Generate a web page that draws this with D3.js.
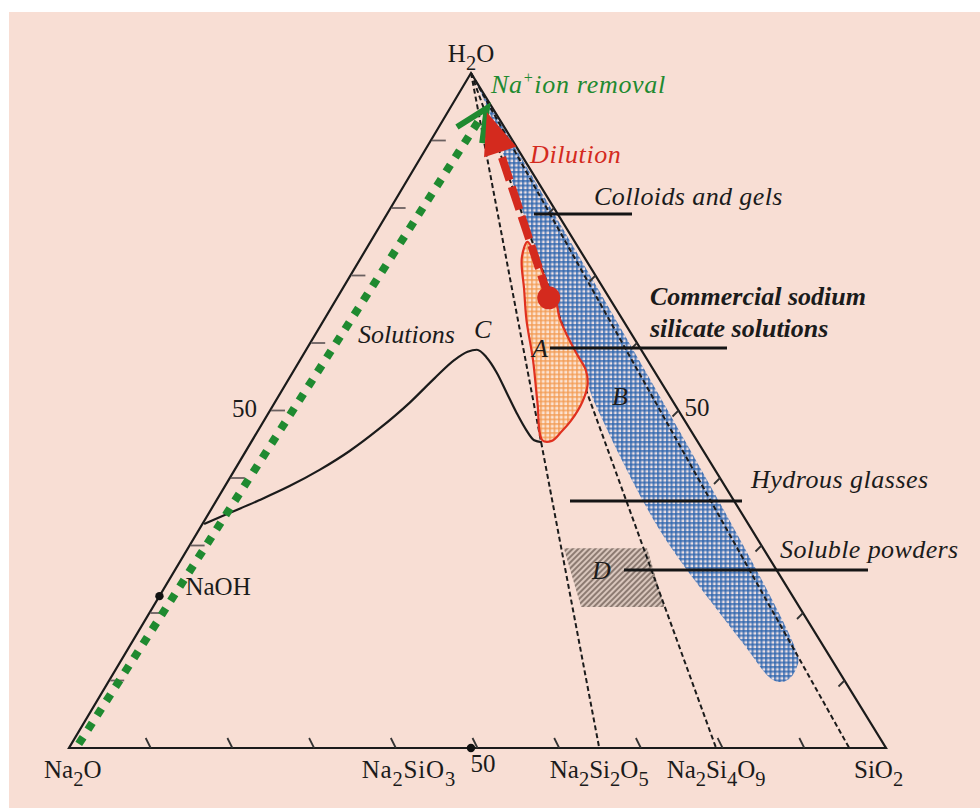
<!DOCTYPE html>
<html>
<head>
<meta charset="utf-8">
<script src="https://cdn.jsdelivr.net/npm/d3@7"></script>
<style>
  html, body { margin: 0; padding: 0; background: #ffffff; }
  svg { display: block; }
</style>
</head>
<body>
<svg id="chart" width="980" height="808"></svg>
<script>
// Na2O – SiO2 – H2O ternary diagram (weight %). Points are [SiO2 %, H2O %].

const axisTicks = [10, 20, 30, 40, 50, 60, 70, 80, 90];
const axisTickLabels = ["50", "50", "50"];

// silicate compositions on the Na2O–SiO2 join (SiO2 %)
const compoundSiO2 = [64.9, 79.2, 95.5];
const compoundNames = ["Na_2Si_2O_5", "Na_2Si_4O_9"];
const metasilicateSiO2 = [49.2];
const naohPoint = [[0, 22.5]];

// boundary of the solutions field
const solutionsCurve = [
  [0.2, 33.2], [2.5, 34.8], [5.2, 36.7], [7.9, 38.8], [10.4, 41.2], [12.7, 44.0],
  [14.7, 47.3], [16.5, 51.1], [17.8, 54.8], [18.9, 57.5], [19.9, 58.7], [20.9, 59.0],
  [22.6, 57.9], [25.0, 55.6], [27.7, 52.6], [30.4, 49.6], [32.8, 47.1], [34.5, 45.6],
  [35.6, 45.3]
];

// field A: commercial sodium silicate solutions
const regionA = [
  [19.2, 75.0], [19.7, 72.6], [22.3, 67.9], [24.8, 63.4], [28.5, 57.5], [32.2, 51.1],
  [35.5, 45.6], [36.7, 45.5], [37.2, 46.8], [37.6, 48.6], [37.6, 51.3], [37.0, 53.8],
  [35.7, 56.0], [33.6, 58.2], [31.0, 61.0], [28.7, 63.7], [27.1, 66.1], [24.8, 68.6],
  [22.4, 71.6], [20.2, 74.1]
];

// field B: colloids, gels, hydrous glasses
const regionB = [
  [1.4, 98.5], [82.6, 13.5], [83.2, 11.9], [83.2, 10.5], [82.5, 9.8], [81.0, 10.2],
  [75.1, 15.3], [68.0, 21.6], [61.0, 27.9], [56.4, 32.3], [51.4, 37.5], [46.0, 43.4],
  [41.4, 48.6], [38.2, 52.3], [36.0, 55.3], [33.6, 58.2], [31.0, 61.0], [28.7, 63.7],
  [26.1, 67.1], [22.0, 72.3], [18.0, 77.5], [13.9, 82.7], [9.4, 88.6], [5.4, 93.8],
  [2.0, 97.8]
];

// field D: soluble powders
const regionD = [[46.0, 29.6], [56.2, 29.6], [62.6, 20.9], [52.4, 20.9]];

// process arrows: [start, end]
const dilutionArrow = [[25.9, 66.7], [4.8, 94.2]];
const ionRemovalArrow = [[0.9, 0.6], [4.5, 94.8]];

const annotations = [
  "Colloids and gels", "Commercial sodium", "silicate solutions",
  "Hydrous glasses", "Soluble powders", "Solutions"
];
const fieldLetters = ["A", "B", "C", "D"];

// ---------------------------------------------------------------
const svg = d3.select("#chart");
const serif = "'Liberation Serif', 'Times New Roman', serif";
const ink = "#1b1b1b";

const xs = d3.scaleLinear().domain([0, 100]).range([69, 886]);
const ys = d3.scaleLinear().domain([0, 100]).range([748, 73]);
const apexX = 471;
const apexShare = xs.invert(apexX) / 100;   // horizontal offset of the H2O corner
const P = ([s, h]) => [xs(s + h * apexShare), ys(h)];

const defs = svg.append("defs");

// blue gingham
const pb = defs.append("pattern").attr("id", "blueCheck")
  .attr("patternUnits", "userSpaceOnUse").attr("width", 4.5).attr("height", 4.5);
pb.append("rect").attr("width", 4.5).attr("height", 4.5).attr("fill", "#f0e2e4");
pb.append("rect").attr("width", 4.5).attr("height", 2.2).attr("fill", "#2a62ad").attr("opacity", 0.72);
pb.append("rect").attr("width", 2.2).attr("height", 4.5).attr("fill", "#2a62ad").attr("opacity", 0.72);

// orange gingham
const po = defs.append("pattern").attr("id", "orangeCheck")
  .attr("patternUnits", "userSpaceOnUse").attr("width", 4.5).attr("height", 4.5);
po.append("rect").attr("width", 4.5).attr("height", 4.5).attr("fill", "#fbe4d6");
po.append("rect").attr("width", 4.5).attr("height", 2).attr("fill", "#f39a50").attr("opacity", 0.7);
po.append("rect").attr("width", 2).attr("height", 4.5).attr("fill", "#f39a50").attr("opacity", 0.7);

// grey diagonal hatch
const ph = defs.append("pattern").attr("id", "hatch")
  .attr("patternUnits", "userSpaceOnUse").attr("width", 4).attr("height", 4)
  .attr("patternTransform", "rotate(-45)");
ph.append("rect").attr("width", 4).attr("height", 4).attr("fill", "#d9c6bc");
ph.append("rect").attr("width", 4).attr("height", 2).attr("fill", "#8d7b72");

// background panel
svg.append("rect").attr("x", 9).attr("y", 12).attr("width", 971).attr("height", 796)
  .attr("fill", "#f8ded4");

const lineOpen = d3.line().x(d => P(d)[0]).y(d => P(d)[1]);

// field B
svg.append("path")
  .attr("d", d3.line().x(d => P(d)[0]).y(d => P(d)[1]).curve(d3.curveCatmullRomClosed.alpha(0.5))(regionB))
  .attr("fill", "url(#blueCheck)");

// field D
svg.append("path").attr("d", lineOpen(regionD) + "Z").attr("fill", "url(#hatch)");

// compound joins from the H2O corner
svg.append("g").selectAll("line").data(compoundSiO2).join("line")
  .attr("x1", P([0, 100])[0]).attr("y1", P([0, 100])[1])
  .attr("x2", d => P([d, 0])[0]).attr("y2", d => P([d, 0])[1])
  .attr("stroke", ink).attr("stroke-width", 2).attr("stroke-dasharray", "5,3");

// triangle frame
const corners = [[0, 0], [100, 0], [0, 100]];
svg.append("path").attr("d", lineOpen(corners) + "Z")
  .attr("fill", "none").attr("stroke", ink).attr("stroke-width", 2.2).attr("stroke-linejoin", "miter");

// ticks: base (SiO2), left and right edges (H2O)
const tickG = svg.append("g").attr("stroke", "#333").attr("stroke-width", 1.8);
tickG.selectAll(".tb").data(axisTicks).join("line").attr("class", "tb")
  .attr("x1", d => P([d, 0])[0]).attr("y1", d => P([d, 0])[1])
  .attr("x2", d => P([d, 0])[0] - 5).attr("y2", d => P([d, 0])[1] - 10);
tickG.selectAll(".tl").data(axisTicks).join("line").attr("class", "tl")
  .attr("stroke", "#6a6060")
  .attr("x1", d => P([0, d])[0] + 1).attr("y1", d => P([0, d])[1])
  .attr("x2", d => P([0, d])[0] + 15).attr("y2", d => P([0, d])[1]);
tickG.selectAll(".tr").data(axisTicks).join("line").attr("class", "tr")
  .attr("x1", d => P([100 - d, d])[0]).attr("y1", d => P([100 - d, d])[1])
  .attr("x2", d => P([100 - d, d])[0] - 6).attr("y2", d => P([100 - d, d])[1] + 6);

// solutions boundary
svg.append("path")
  .attr("d", d3.line().x(d => P(d)[0]).y(d => P(d)[1]).curve(d3.curveMonotoneX)(solutionsCurve))
  .attr("fill", "none").attr("stroke", ink).attr("stroke-width", 2.2);

// field A
svg.append("path")
  .attr("d", d3.line().x(d => P(d)[0]).y(d => P(d)[1]).curve(d3.curveCatmullRomClosed.alpha(0.5))(regionA))
  .attr("fill", "url(#orangeCheck)").attr("stroke", "#e0301f").attr("stroke-width", 2.2);

// leader lines
const leaders = svg.append("g").attr("stroke", "#151515").attr("stroke-width", 3);
leaders.append("line").attr("x1", 534).attr("y1", 214).attr("x2", 632).attr("y2", 214);
leaders.append("line").attr("x1", 550).attr("y1", 348).attr("x2", 727).attr("y2", 348);
leaders.append("line").attr("x1", 570).attr("y1", 501).attr("x2", 742).attr("y2", 501);
leaders.append("line").attr("x1", 624).attr("y1", 570).attr("x2", 868).attr("y2", 570);

// helper: unit vector from a to b in pixels
function unit(a, b) {
  const dx = b[0] - a[0], dy = b[1] - a[1], L = Math.hypot(dx, dy);
  return [dx / L, dy / L, L];
}

// Na+ ion removal arrow (green, dotted, open head)
{
  const a = P(ionRemovalArrow[0]), b = P(ionRemovalArrow[1]);
  const [ux, uy] = unit(a, b);
  const green = "#1f8a30";
  svg.append("line")
    .attr("x1", a[0]).attr("y1", a[1]).attr("x2", b[0] - ux * 12).attr("y2", b[1] - uy * 12)
    .attr("stroke", green).attr("stroke-width", 8).attr("stroke-dasharray", "8,9");
  const back = 32, half = 15;
  const b1 = [b[0] - ux * back + uy * half, b[1] - uy * back - ux * half];
  const b2 = [b[0] - ux * back - uy * half, b[1] - uy * back + ux * half];
  svg.append("path").attr("d", d3.line()([b1, b, b2]))
    .attr("fill", "none").attr("stroke", green).attr("stroke-width", 6)
    .attr("stroke-linejoin", "miter");
}

// dilution arrow (red, dashed, filled head)
{
  const a = P(dilutionArrow[0]), b = P(dilutionArrow[1]);
  const [ux, uy] = unit(a, b);
  const red = "#d42a1e";
  const headLen = 42, half = 17;
  svg.append("line")
    .attr("x1", a[0]).attr("y1", a[1]).attr("x2", b[0] - ux * (headLen - 4)).attr("y2", b[1] - uy * (headLen - 4))
    .attr("stroke", red).attr("stroke-width", 8).attr("stroke-dasharray", "24,7");
  const base = [b[0] - ux * headLen, b[1] - uy * headLen];
  svg.append("path")
    .attr("d", d3.line()([b, [base[0] + uy * half, base[1] - ux * half], [base[0] - uy * half, base[1] + ux * half]]) + "Z")
    .attr("fill", red);
  svg.append("circle").attr("cx", a[0]).attr("cy", a[1]).attr("r", 11.5).attr("fill", red);
}

// composition points
svg.append("g").selectAll("circle")
  .data([[metasilicateSiO2[0], 0], ...naohPoint]).join("circle")
  .attr("cx", d => P(d)[0]).attr("cy", d => P(d)[1]).attr("r", 4.2).attr("fill", "#111");

// ---------------------------------------------------------------
// text with _n subscripts and ^+ superscripts
function rich(sel, str, size) {
  const parts = str.split(/(_\d|\^\+)/).filter(d => d);
  let shift = 0;
  parts.forEach(p => {
    let target = 0, txt = p, fs = size;
    if (p[0] === "_") { target = size * 0.3; txt = p.slice(1); fs = size * 0.82; }
    else if (p[0] === "^") { target = -size * 0.38; txt = p.slice(1); fs = size * 0.62; }
    sel.append("tspan").attr("dy", target - shift).attr("font-size", fs).text(txt);
    shift = target;
  });
  return sel;
}
function label(x, y, str, opts = {}) {
  const size = opts.size || 25;
  const t = svg.append("text").attr("x", x).attr("y", y)
    .attr("font-family", serif).attr("font-size", size)
    .attr("fill", opts.color || ink)
    .attr("font-style", opts.italic ? "italic" : "normal")
    .attr("font-weight", opts.bold ? "bold" : "normal")
    .attr("letter-spacing", opts.spacing || 0)
    .attr("text-anchor", opts.anchor || "start");
  return rich(t, str, size);
}

// corner and compound names
label(44, 778, "Na_2O");
label(886 - 32, 778, "SiO_2");
label(apexX, 62, "H_2O", { anchor: "middle" });
label(xs(metasilicateSiO2[0]) - 15, 778, "Na_2SiO_3", { anchor: "end", spacing: 0.8 });
compoundNames.forEach((n, i) => label(P([compoundSiO2[i], 0])[0], 778, n, { anchor: "middle" }));
label(P([0, 22.5])[0] + 26, 595, "NaOH");

// scale labels
label(P([50, 0])[0] - 7, 772, axisTickLabels[0]);
label(P([0, 50])[0] - 13, 417, axisTickLabels[1], { anchor: "end" });
label(P([50, 50])[0] + 6, 416, axisTickLabels[2]);

// process labels
label(491, 93, "Na^+ion removal", { italic: true, color: "#1f8a30", size: 26, spacing: 0.7 });
label(530, 163, "Dilution", { italic: true, color: "#d42a1e", size: 26, spacing: 0.6 });

// field annotations
label(594, 205, annotations[0], { italic: true, size: 26, spacing: 0.4 });
label(650, 305, annotations[1], { italic: true, bold: true, size: 26 });
label(650, 337, annotations[2], { italic: true, bold: true, size: 26 });
label(751, 488, annotations[3], { italic: true, size: 26, spacing: 0.5 });
label(780, 558, annotations[4], { italic: true, size: 26, spacing: 0.4 });
label(358, 343, annotations[5], { italic: true, size: 26 });

label(532, 357, fieldLetters[0], { italic: true, size: 26 });
label(612, 405, fieldLetters[1], { italic: true, size: 26 });
label(474, 338, fieldLetters[2], { italic: true, size: 26 });
label(592, 579, fieldLetters[3], { italic: true, size: 26 });
</script>
</body>
</html>
